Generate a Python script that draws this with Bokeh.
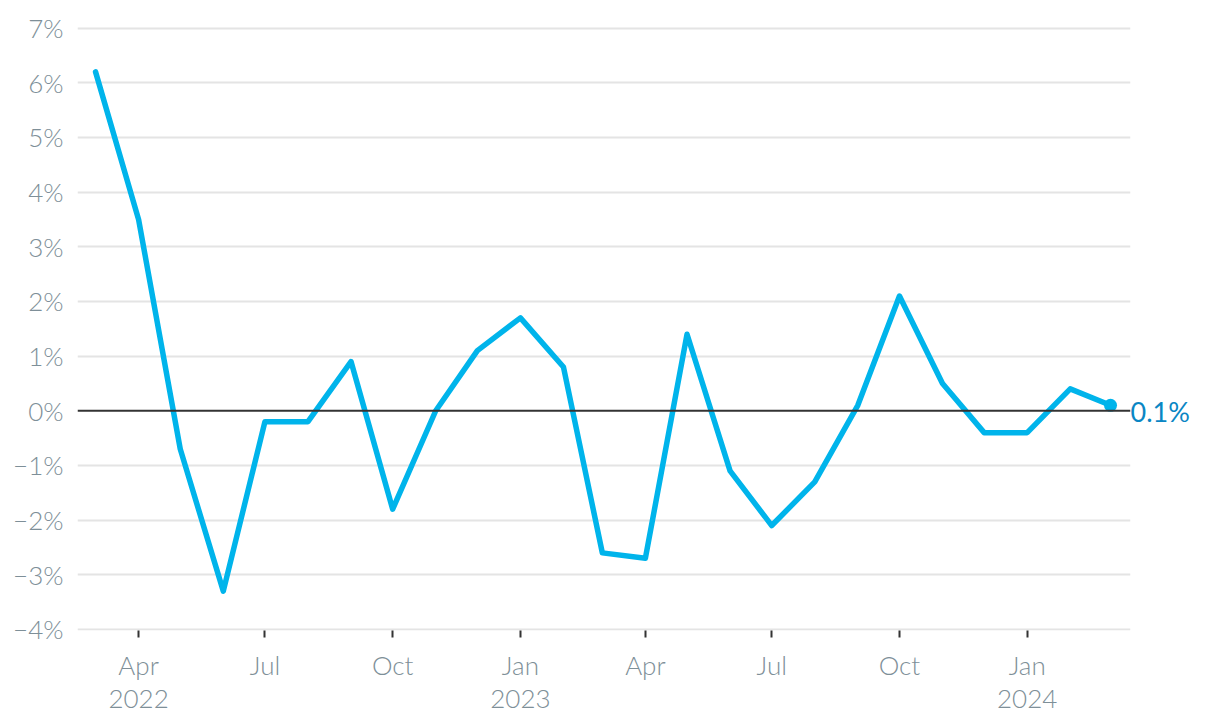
import pandas as pd
from bokeh.plotting import figure
from bokeh.models import Range1d, FixedTicker, Span, ColumnDataSource, LinearAxis
from bokeh.embed import file_html
from bokeh.resources import INLINE

months = ["2022-03", "2022-04", "2022-05", "2022-06", "2022-07", "2022-08", "2022-09",
          "2022-10", "2022-11", "2022-12", "2023-01", "2023-02", "2023-03", "2023-04",
          "2023-05", "2023-06", "2023-07", "2023-08", "2023-09", "2023-10", "2023-11",
          "2023-12", "2024-01", "2024-02", "2024-03"]
values = [6.2, 3.5, -0.7, -3.3, -0.2, -0.2, 0.9, -1.8, 0.0, 1.1, 1.7, 0.8, -2.6, -2.7,
          1.4, -1.1, -2.1, -1.3, 0.1, 2.1, 0.5, -0.4, -0.4, 0.4, 0.1]
x_tick_months = ["2022-04", "2022-07", "2022-10", "2023-01", "2023-04", "2023-07",
                 "2023-10", "2024-01"]
x_tick_labels = ["Apr", "Jul", "Oct", "Jan", "Apr", "Jul", "Oct", "Jan"]
year_labels = ["2022", "", "", "2023", "", "", "", "2024"]
y_ticks = [-4, -3, -2, -1, 0, 1, 2, 3, 4, 5, 6, 7]
y_tick_labels = ["\u22124%", "\u22123%", "\u22122%", "\u22121%", "0%", "1%", "2%", "3%",
                 "4%", "5%", "6%", "7%"]
end_label = "0.1%"

origin = pd.Timestamp("2022-03-01")
def day(m):
    return float((pd.Timestamp(m + "-01") - origin).days)

xs = [day(m) for m in months]
src = ColumnDataSource(dict(x=xs, y=values))

FONT = "Lato Light"
GREY = "#7e8f98"

p = figure(width=1220, height=728, output_backend="svg", toolbar_location=None,
           x_range=Range1d(xs[0] - 13, xs[-1] + 14.4), y_range=Range1d(-4.02, 7.03),
           min_border_left=77, min_border_right=90, min_border_top=26, min_border_bottom=98)
p.outline_line_color = None
p.background_fill_color = "white"
p.border_fill_color = "white"

# grid
p.xgrid.grid_line_color = None
p.ygrid.ticker = FixedTicker(ticks=[t for t in y_ticks if t != 0])
p.ygrid.grid_line_color = "#e4e4e4"
p.ygrid.grid_line_width = 2

# y axis
p.yaxis.ticker = FixedTicker(ticks=y_ticks)
p.yaxis.major_label_overrides = {float(t): l for t, l in zip(y_ticks, y_tick_labels)}
p.yaxis.axis_line_color = None
p.yaxis.major_tick_line_color = None
p.yaxis.major_tick_in = 0
p.yaxis.major_tick_out = 0
p.yaxis.minor_tick_line_color = None
p.yaxis.major_label_text_font = FONT
p.yaxis.major_label_text_font_size = "26px"
p.yaxis.major_label_text_color = GREY
p.yaxis.major_label_standoff = 14

# x axis (months)
xt = [day(m) for m in x_tick_months]
p.xaxis.ticker = FixedTicker(ticks=xt)
p.xaxis.major_label_overrides = {t: l for t, l in zip(xt, x_tick_labels)}
p.xaxis.axis_line_color = None
p.xaxis.major_tick_line_color = "#333333"
p.xaxis.major_tick_line_width = 2
p.xaxis.major_tick_in = 0
p.xaxis.major_tick_out = 7
p.xaxis.minor_tick_line_color = None
p.xaxis.major_label_text_font = FONT
p.xaxis.major_label_text_font_size = "26px"
p.xaxis.major_label_text_color = GREY
p.xaxis.major_label_standoff = 11

# second x axis (years)
yax = LinearAxis(ticker=FixedTicker(ticks=xt),
                 major_label_overrides={t: l for t, l in zip(xt, year_labels)},
                 axis_line_color=None, major_tick_line_color=None, minor_tick_line_color=None,
                 major_tick_in=0, major_tick_out=0, major_label_standoff=6,
                 major_label_text_font=FONT, major_label_text_font_size="26px",
                 major_label_text_color=GREY)
p.add_layout(yax, "below")

# end value label as right axis (label sits slightly below the value)
label_pos = values[-1] - 0.11
rax = LinearAxis(ticker=FixedTicker(ticks=[label_pos]),
                 major_label_overrides={label_pos: end_label},
                 axis_line_color=None, major_tick_line_color=None, minor_tick_line_color=None,
                 major_tick_in=0, major_tick_out=0, major_label_standoff=0,
                 major_label_text_font="Lato", major_label_text_font_size="27px",
                 major_label_text_color="#0a86c4")
p.add_layout(rax, "right")

# zero line
p.add_layout(Span(location=0, dimension="width", line_color="#333333", line_width=2))

p.line("x", "y", source=src, line_color="#00b4eb", line_width=5.5, line_join="round",
       line_cap="round")
last = ColumnDataSource(dict(x=[xs[-1]], y=[values[-1]]))
p.scatter("x", "y", source=last, size=13, fill_color="#00b4eb", line_color=None)

open("out.html", "w").write(file_html(p, INLINE))
